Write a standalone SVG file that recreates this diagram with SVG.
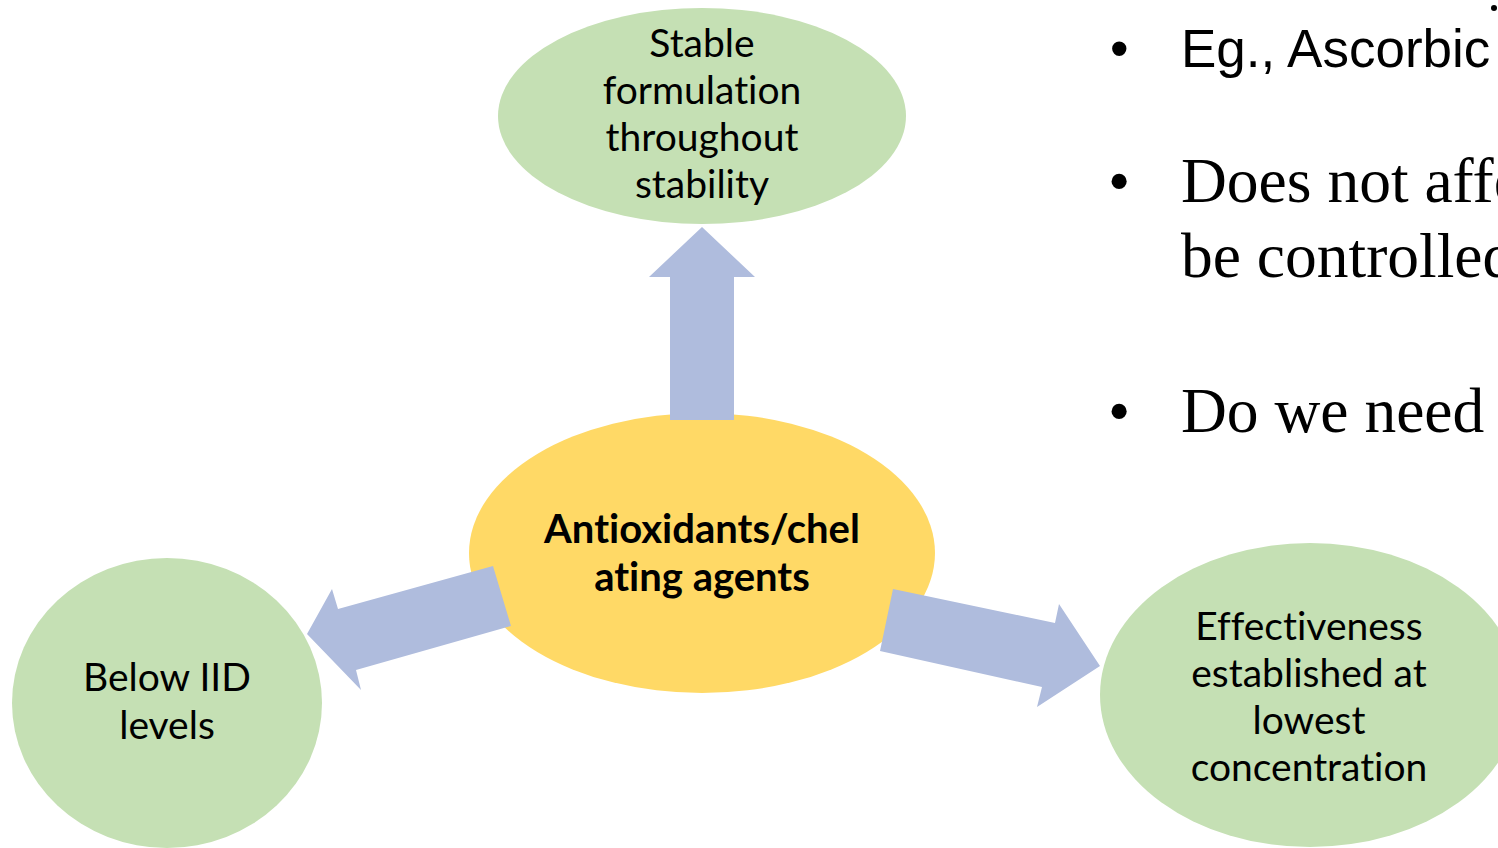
<svg xmlns="http://www.w3.org/2000/svg" width="1498" height="848" viewBox="0 0 1498 848">
<style>
.green{fill:#C5E0B4}
.yellow{fill:#FFD966}
.arrow{fill:#AFBCDD}
.lbl{font-family:Lato,"Liberation Sans",sans-serif;font-size:39px;fill:#000;text-anchor:middle;font-variant-ligatures:none;font-feature-settings:"liga" 0}
.bold{font-weight:bold;font-size:40px}
.arial{font-family:"Liberation Sans",Arial,sans-serif;font-size:53px;fill:#000}
.times{font-family:"Liberation Serif","Times New Roman",serif;font-size:63.5px;fill:#000}
</style>
<rect width="1498" height="848" fill="#fff"/>
<g id="bullets">
<circle cx="1494" cy="8" r="3" fill="#000"/>
<text class="arial" x="1110" y="67">•</text>
<text class="arial" x="1181" y="67">Eg., Ascorbic acid</text>
<text class="times" x="1108" y="202">•</text>
<text class="times" x="1181" y="202">Does not affect</text>
<text class="times" x="1181" y="277">be controlled</text>
<text class="times" x="1108" y="432">•</text>
<text class="times" x="1181" y="432">Do we need</text>
</g>
<g id="node-top">
<ellipse class="green" cx="702" cy="116" rx="204" ry="108"/>
<text class="lbl" x="702" y="57">Stable</text>
<text class="lbl" x="702" y="104">formulation</text>
<text class="lbl" x="702" y="151">throughout</text>
<text class="lbl" x="702" y="198">stability</text>
</g>
<g id="node-center">
<ellipse class="yellow" cx="702" cy="553" rx="233" ry="140"/>
<text class="lbl bold" x="702" y="543">Antioxidants/chel</text>
<text class="lbl bold" x="702" y="591">ating agents</text>
</g>
<g id="node-left">
<ellipse class="green" cx="167" cy="703" rx="155" ry="145"/>
<text class="lbl" x="167" y="691">Below IID</text>
<text class="lbl" x="167" y="739">levels</text>
</g>
<g id="node-right">
<ellipse class="green" cx="1310" cy="695" rx="210" ry="152"/>
<text class="lbl" x="1309" y="640">Effectiveness</text>
<text class="lbl" x="1309" y="687">established at</text>
<text class="lbl" x="1309" y="734">lowest</text>
<text class="lbl" x="1309" y="781">concentration</text>
</g>
<g id="connectors">
<polygon class="arrow" points="670,420 670,277 649,277 702,227 755,277 734,277 734,420"/>
<polygon class="arrow" points="493,566 338,609 332,589 307,634 361,690 356,670 511,626"/>
<polygon class="arrow" points="893,589 1055,623 1059,604 1100,666 1037,707 1042,687 880,651"/>
</g>
</svg>
